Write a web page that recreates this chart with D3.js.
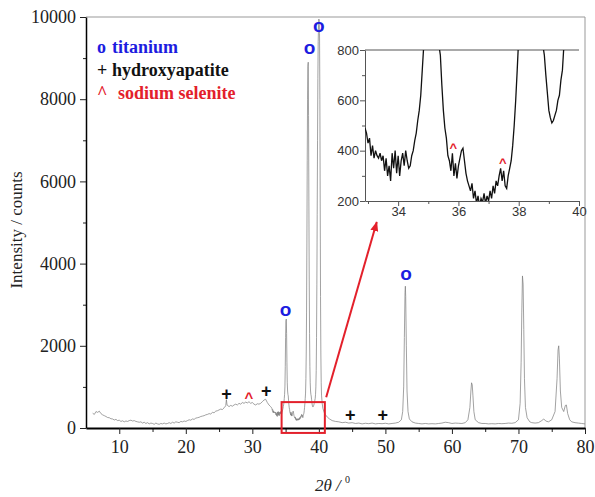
<!DOCTYPE html>
<meta charset="utf-8">
<style>
	body { margin: 0; background: #fff; }
	.axis-main text {
		font-family: "Liberation Serif", "Times New Roman", serif;
		font-size: 18px;
		fill: #222;
	}
	.axis-inset text {
		font-family: "Liberation Sans", Arial, sans-serif;
		font-size: 13px;
		fill: #333;
	}
	.line-main { stroke: #7a7a7a; stroke-width: 0.7; fill: none; }
	.line-inset { stroke: #111; stroke-width: 1.3; fill: none; }
	.legend { font-family: "Liberation Serif", "Times New Roman", serif; font-size: 18px; font-weight: bold; }
	.marker { font-family: "Liberation Sans", Arial, sans-serif; font-weight: bold; text-anchor: middle; }
</style>

<div class="vis-xrd"></div>

<script src="https://d3js.org/d3.v7.min.js"></script>
<script>

	// ---- //
	// Data //
	// ---- //

	// XRD scan, [2theta, counts]
	let scanLow = [
		[6.0,360],[6.25,330],[6.5,400],[6.75,380],[7.0,410],[7.25,350],[7.5,320],[7.75,300],
		[8.0,280],[8.25,255],[8.5,250],[8.75,225],[9.0,220],[9.25,195],[9.5,210],[9.75,180],
		[10.0,190],[10.25,160],[10.5,175],[10.75,150],[11.0,170],[11.25,160],[11.5,180],[11.75,190],
		[12.0,170],[12.25,180],[12.5,160],[12.75,150],[13.0,140],[13.25,150],[13.5,120],[13.75,140],
		[14.0,110],[14.25,130],[14.5,100],[14.75,120],[15.0,110],[15.25,90],[15.5,120],[15.75,100],
		[16.0,90],[16.25,110],[16.5,100],[16.75,120],[17.0,100],[17.25,110],[17.5,130],[17.75,110],
		[18.0,140],[18.25,120],[18.5,150],[18.75,140],[19.0,130],[19.25,160],[19.5,150],[19.75,170],
		[20.0,160],[20.25,180],[20.5,200],[20.75,190],[21.0,220],[21.25,210],[21.5,240],[21.75,250],
		[22.0,260],[22.25,280],[22.5,290],[22.75,300],[23.0,320],[23.25,330],[23.5,350],[23.75,340],
		[24.0,380],[24.25,370],[24.5,410],[24.75,420],[25.0,440],[25.25,460],[25.5,450],[25.75,490],
		[26.0,540],[26.1,690],[26.2,560],[26.5,520],[26.75,550],[27.0,530],[27.25,560],[27.5,580],
		[27.75,560],[28.0,600],[28.25,580],[28.5,620],[28.75,600],[29.0,630],[29.25,610],[29.5,640],
		[29.75,600],[30.0,620],[30.25,580],[30.5,560],[30.75,590],[31.0,580],[31.25,600],[31.5,640],
		[31.75,680],[32.0,700],[32.25,620],[32.5,560],[32.75,520]
	];

	let scanZoom = [
		[32.90,490],[32.95,470],[33.00,430],[33.05,450],[33.10,380],[33.15,420],[33.20,370],[33.25,400],
		[33.30,380],[33.35,370],[33.40,390],[33.45,360],[33.50,380],[33.55,320],[33.60,370],[33.65,300],
		[33.70,340],[33.75,280],[33.80,390],[33.85,330],[33.90,400],[33.95,310],[34.00,380],[34.05,300],
		[34.10,360],[34.15,390],[34.20,340],[34.25,400],[34.30,360],[34.35,330],[34.40,340],[34.45,380],
		[34.50,400],[34.55,440],[34.60,470],[34.65,520],[34.70,560],[34.75,620],[34.80,720],[34.85,820],
		[34.90,1000],[34.95,1500],[35.00,2200],[35.05,2600],[35.10,2650],[35.15,2300],[35.20,1600],[35.25,1100],
		[35.30,900],[35.35,820],[35.40,780],[35.45,660],[35.50,560],[35.55,490],[35.60,450],[35.65,380],
		[35.70,360],[35.75,320],[35.80,390],[35.85,300],[35.90,350],[35.95,290],[36.00,340],[36.05,370],
		[36.10,400],[36.15,410],[36.20,360],[36.25,310],[36.30,280],[36.35,260],[36.40,240],[36.45,270],
		[36.50,210],[36.55,240],[36.60,190],[36.65,220],[36.70,180],[36.75,210],[36.80,195],[36.85,230],
		[36.90,190],[36.95,220],[37.00,200],[37.05,240],[37.10,210],[37.15,260],[37.20,230],[37.25,280],
		[37.30,260],[37.35,300],[37.40,330],[37.45,280],[37.50,320],[37.55,260],[37.60,250],[37.65,300],
		[37.70,330],[37.75,360],[37.80,420],[37.85,500],[37.90,600],[37.95,720],[38.00,850],[38.05,1200],
		[38.10,1800],[38.15,2800],[38.20,4500],[38.25,6500],[38.30,8000],[38.35,8800],[38.40,8900],[38.45,7600],
		[38.50,5500],[38.55,3600],[38.60,2300],[38.65,1500],[38.70,1100],[38.75,900],[38.80,820],[38.85,780],
		[38.90,700],[38.95,630],[39.00,560],[39.05,530],[39.10,510],[39.15,520],[39.20,540],[39.25,560],
		[39.30,600],[39.35,620],[39.40,680],[39.45,720],[39.50,820],[39.55,1000],[39.60,1400],[39.65,2200],
		[39.70,3500],[39.75,5200],[39.80,7000],[39.85,8500],[39.90,9400],[39.95,9800],[40.00,9950],[40.05,9900]
	];

	let scanHigh = [
		[40.10,9600],[40.15,8000],[40.20,5500],[40.25,3200],[40.30,1800],[40.35,1100],[40.40,800],[40.50,600],
		[40.60,480],[40.80,380],[41.0,320],[41.3,260],[41.6,220],[42.0,180],[42.5,160],[43.0,150],
		[43.5,130],[44.0,140],[44.5,120],[45.0,130],[45.5,110],[46.0,120],[46.5,100],[47.0,115],
		[47.5,105],[48.0,120],[48.5,100],[49.0,110],[49.5,105],[50.0,115],[50.5,100],[51.0,110],
		[51.5,120],[52.0,140],[52.4,200],[52.6,400],[52.75,1000],[52.85,2200],[52.95,3300],[53.0,3450],
		[53.05,3200],[53.15,2000],[53.25,900],[53.4,400],[53.6,220],[54.0,150],[54.5,120],[55.0,110],
		[55.5,100],[56.0,110],[56.5,100],[57.0,105],[57.5,100],[58.0,110],[58.5,120],[59.0,140],
		[59.5,130],[60.0,110],[60.5,120],[61.0,115],[61.5,110],[62.0,130],[62.4,200],[62.7,500],
		[62.85,900],[62.95,1100],[63.05,1050],[63.15,800],[63.3,400],[63.5,200],[64.0,130],[64.5,110],
		[65.0,110],[65.5,100],[66.0,105],[66.5,100],[67.0,110],[67.5,105],[68.0,110],[68.5,120],
		[69.0,115],[69.5,130],[70.0,200],[70.25,600],[70.4,1600],[70.5,2800],[70.6,3700],[70.7,3500],
		[70.8,2400],[70.9,1200],[71.05,500],[71.3,250],[71.7,150],[72.0,130],[72.5,120],[73.0,130],
		[73.5,180],[73.8,220],[74.1,170],[74.5,150],[75.0,200],[75.5,400],[75.8,1200],[75.95,1900],
		[76.05,2000],[76.15,1700],[76.3,900],[76.5,500],[76.8,400],[77.05,550],[77.2,560],[77.4,350],
		[77.7,200],[78.0,150],[78.5,130],[79.0,120],[79.5,110],[80.0,100]
	];

	// phase markers, [2theta, counts] of the symbol centre
	let titaniumMarks = [[35.0, 2850], [38.6, 9220], [40.0, 9760], [53.1, 3720]];
	let hapMarks = [[26.1, 830], [32.1, 900], [44.7, 340], [49.6, 340]];
	let seleniteMarks = [[29.5, 800]];
	let seleniteInset = [[35.83, 423], [37.47, 363]];

	// zoomed window and the arrow pointing at the inset
	let zoomBox = { x0: 34.4, x1: 40.9, y0: -120, y1: 630 };
	let arrow = { from: [41.1, 750], to: [48.7, 5010] };

	let legendItems = [
		{ sym: "o", label: "titanium", color: "#1c1ce0" },
		{ sym: "+", label: "hydroxyapatite", color: "#111" },
		{ sym: "^", label: "sodium selenite", color: "#e3202b" }
	];

	let xTicks = [10, 20, 30, 40, 50, 60, 70, 80];
	let xMinor = [15, 25, 35, 45, 55, 65, 75];
	let yTicks = [0, 2000, 4000, 6000, 8000, 10000];
	let yMinor = [1000, 3000, 5000, 7000, 9000];
	let insetXTicks = [34, 36, 38, 40];
	let insetXMinor = [33, 35, 37, 39];
	let insetYTicks = [200, 400, 600, 800];
	let insetYMinor = [300, 500, 700];

	let pattern = scanLow.concat(scanZoom, scanHigh);

	// ----- //
	// Setup //
	// ----- //

	let margin = { top: 17, right: 10, bottom: 69, left: 86 };
	let width = 595 - margin.left - margin.right,
		height = 497 - margin.top - margin.bottom;

	let x = d3.scaleLinear().domain([5, 80]).range([0, width]);
	let y = d3.scaleLinear().domain([0, 10000]).range([height, 0]);

	let svg = d3.select(".vis-xrd")
		.append("svg")
			.attr("width", 595)
			.attr("height", 497)
		.append("g")
			.attr("transform", "translate(" + margin.left + "," + margin.top + ")");

	// frame (top and right)
	svg.append("path")
		.attr("d", "M0,0H" + width + "V" + height)
		.attr("fill", "none")
		.attr("stroke", "#999")
		.attr("stroke-width", 1);

	// minor ticks
	svg.append("g")
		.attr("class", "axis-main")
		.attr("transform", "translate(0," + height + ")")
		.call(d3.axisBottom(x).tickValues(xMinor).tickSize(4).tickFormat(""))
		.call(g => g.select(".domain").remove());
	svg.append("g")
		.attr("class", "axis-main")
		.call(d3.axisLeft(y).tickValues(yMinor).tickSize(3).tickFormat(""))
		.call(g => g.select(".domain").remove());

	// AXES
	svg.append("g")
		.attr("class", "axis-main")
		.attr("transform", "translate(0," + height + ")")
		.call(d3.axisBottom(x).tickValues(xTicks).tickSize(6).tickSizeOuter(0).tickPadding(6))
		.call(g => g.select(".domain").attr("stroke-width", 1.8));
	svg.append("g")
		.attr("class", "axis-main")
		.call(d3.axisLeft(y).tickValues(yTicks).tickFormat(d3.format("d")).tickSize(6).tickSizeOuter(0).tickPadding(4))
		.call(g => g.select(".domain").attr("stroke-width", 1.5));
	svg.selectAll(".axis-main .tick line").attr("stroke", "#222");

	// LINE
	let valueline = d3.line()
		.x(d => x(d[0]))
		.y(d => y(d[1]));

	svg.append("path")
		.datum(pattern)
		.attr("class", "line-main")
		.attr("d", valueline);

	// Y LABEL
	svg.append("text")
		.attr("transform", "rotate(-90)")
		.attr("x", -(230 - margin.top))
		.attr("y", 22 - margin.left)
		.style("text-anchor", "middle")
		.style("font-family", "'Liberation Serif', serif")
		.style("font-size", "17px")
		.style("fill", "#222")
		.text("Intensity / counts");

	// X LABEL
	let xl = svg.append("text")
		.attr("x", 315 - margin.left)
		.attr("y", 491 - margin.top)
		.style("font-family", "'Liberation Serif', serif")
		.style("font-size", "17px")
		.style("font-style", "italic")
		.style("fill", "#222");
	xl.append("tspan").text("2θ / ");
	xl.append("tspan").attr("dy", -8).style("font-size", "10px").style("font-style", "normal").text("0");

	// LEGEND
	legendItems.forEach((d, i) => {
		let t = svg.append("text")
			.attr("class", "legend")
			.attr("x", 97 - margin.left)
			.attr("y", 53 - margin.top + i * 23)
			.style("fill", d.color);
		t.append("tspan").text(d.sym);
		t.append("tspan").attr("x", (i == 2 ? 118 : 112) - margin.left).text(d.label);
	});

	// MARKERS
	function addMarks(g, data, xs, ys, sym, color, size, dy) {
		g.selectAll(null)
			.data(data)
			.enter().append("text")
			.attr("class", "marker")
			.attr("x", d => xs(d[0]))
			.attr("y", d => ys(d[1]))
			.attr("dy", dy)
			.style("font-size", size + "px")
			.style("fill", color)
			.text(sym);
	}
	addMarks(svg, titaniumMarks, x, y, "o", "#1c1ce0", 19, "0.27em");
	addMarks(svg, hapMarks, x, y, "+", "#111", 18, "0.36em");
	addMarks(svg, seleniteMarks, x, y, "^", "#e3202b", 15, "0.55em");

	// ZOOM BOX + ARROW
	svg.append("rect")
		.attr("x", x(zoomBox.x0))
		.attr("y", y(zoomBox.y1))
		.attr("width", x(zoomBox.x1) - x(zoomBox.x0))
		.attr("height", y(zoomBox.y0) - y(zoomBox.y1))
		.attr("fill", "none")
		.attr("stroke", "#e3202b")
		.attr("stroke-width", 2);

	svg.append("defs").append("marker")
		.attr("id", "head")
		.attr("viewBox", "0 0 10 10")
		.attr("refX", 9).attr("refY", 5)
		.attr("markerWidth", 5).attr("markerHeight", 5)
		.attr("orient", "auto")
		.append("path")
		.attr("d", "M0,1L10,5L0,9Z")
		.attr("fill", "#e3202b");

	svg.append("line")
		.attr("x1", x(arrow.from[0])).attr("y1", y(arrow.from[1]))
		.attr("x2", x(arrow.to[0])).attr("y2", y(arrow.to[1]))
		.attr("stroke", "#e3202b")
		.attr("stroke-width", 2)
		.attr("marker-end", "url(#head)");

	// ----- //
	// Inset //
	// ----- //

	let inset = { left: 365 - margin.left, top: 50 - margin.top, width: 214, height: 151 };
	let xi = d3.scaleLinear().domain([32.9, 40]).range([0, inset.width]);
	let yi = d3.scaleLinear().domain([200, 800]).range([inset.height, 0]);

	let gi = svg.append("g")
		.attr("transform", "translate(" + inset.left + "," + inset.top + ")");

	gi.append("clipPath").attr("id", "clip-inset")
		.append("rect").attr("width", inset.width).attr("height", inset.height);

	gi.append("line")
		.attr("x1", 0).attr("x2", inset.width)
		.attr("y1", yi(800)).attr("y2", yi(800))
		.attr("stroke", "#555");

	gi.append("g")
		.attr("class", "axis-inset")
		.attr("transform", "translate(0," + inset.height + ")")
		.call(d3.axisBottom(xi).tickValues(insetXMinor).tickSize(3).tickFormat(""))
		.call(g => g.select(".domain").remove());
	gi.append("g")
		.attr("class", "axis-inset")
		.call(d3.axisLeft(yi).tickValues(insetYMinor).tickSize(3).tickFormat(""))
		.call(g => g.select(".domain").remove());
	gi.append("g")
		.attr("class", "axis-inset")
		.attr("transform", "translate(0," + inset.height + ")")
		.call(d3.axisBottom(xi).tickValues(insetXTicks).tickSize(5).tickSizeOuter(0).tickPadding(1));
	gi.append("g")
		.attr("class", "axis-inset")
		.call(d3.axisLeft(yi).tickValues(insetYTicks).tickSize(5).tickSizeOuter(0).tickPadding(1));
	gi.selectAll(".axis-inset .domain, .axis-inset .tick line").attr("stroke", "#555");

	let insetline = d3.line()
		.x(d => xi(d[0]))
		.y(d => yi(d[1]));

	gi.append("path")
		.datum(scanZoom)
		.attr("class", "line-inset")
		.attr("clip-path", "url(#clip-inset)")
		.attr("d", insetline);

	addMarks(gi, seleniteInset, xi, yi, "^", "#e3202b", 13, "0.55em");

</script>
